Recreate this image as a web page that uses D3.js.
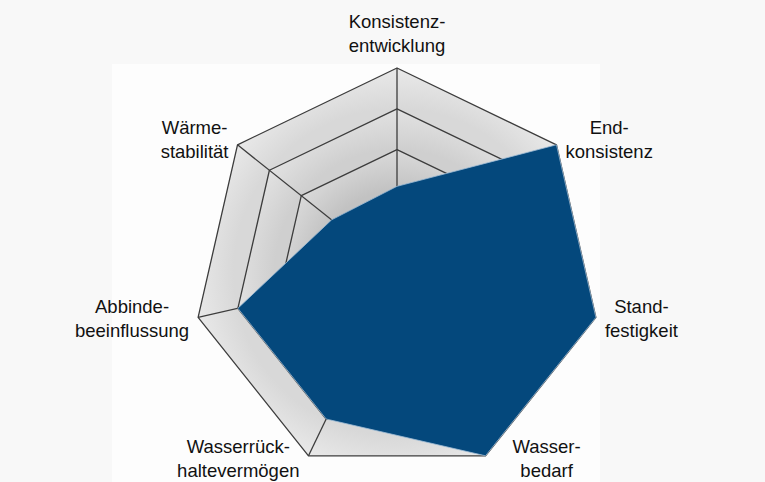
<!DOCTYPE html>
<html>
  <head>
    <meta charset="utf-8">
    <title>Netzdiagramm</title>
    <script src="https://cdn.jsdelivr.net/npm/d3@7"></script>
    <style>
      body { margin: 0; background: #f8f8f8; }
      text { font-family: "Liberation Sans", Arial, sans-serif; font-size: 18.5px; fill: #111; }
    </style>
  </head>
  <body>
    <script>
      // axis labels, clockwise from the top
      var labels = [
        ["Konsistenz-", "entwicklung"],
        ["End-", "konsistenz"],
        ["Stand-", "festigkeit"],
        ["Wasser-", "bedarf"],
        ["Wasserrück-", "haltevermögen"],
        ["Abbinde-", "beeinflussung"],
        ["Wärme-", "stabilität"]
      ];
      var values = [2.1, 5, 5, 5, 4, 4, 2.05];
      var levels = [1, 2, 3, 4, 5];

      var w = 765, h = 482;
      var cx = 397, cy = 272, R = 204;

      var svg = d3.select("body").append("svg")
          .attr("width", w)
          .attr("height", h);

      // slightly whiter panel behind the chart
      svg.append("rect")
          .attr("x", 112).attr("y", 64)
          .attr("width", 488).attr("height", h - 64)
          .attr("fill", "#fdfdfd");

      var r = d3.scaleLinear().domain([0, 5]).range([0, R]);
      var angle = function(i) { return i * 2 * Math.PI / labels.length; };

      var g = svg.append("g").attr("transform", "translate(" + cx + "," + cy + ")");
      var defs = svg.append("defs");

      var ring = function(lv) {
        return d3.lineRadial()
            .angle(function(d, i) { return angle(i); })
            .radius(r(lv))
            .curve(d3.curveLinearClosed)(labels);
      };

      // shaded bands, each one a little darker towards the inside
      var light = ["#c4c4c4", "#cfcfcf", "#dadada", "#e2e2e2", "#e9e9e9"];
      var dark  = ["#9c9c9c", "#b3b3b3", "#c2c2c2", "#cfcfcf", "#d8d8d8"];
      levels.slice().reverse().forEach(function(lv) {
        var k = lv - 1;
        var grad = defs.append("radialGradient")
            .attr("id", "band" + lv)
            .attr("gradientUnits", "userSpaceOnUse")
            .attr("cx", 0).attr("cy", 0)
            .attr("r", r(lv));
        grad.append("stop").attr("offset", k === 0 ? 0 : (lv - 1) / lv).attr("stop-color", dark[k]);
        grad.append("stop").attr("offset", 1).attr("stop-color", light[k]);
        g.append("path")
            .attr("d", ring(lv))
            .attr("fill", "url(#band" + lv + ")")
            .attr("stroke", "#3c3c3c")
            .attr("stroke-width", 1.3)
            .attr("stroke-linejoin", "round");
      });

      // spokes
      g.selectAll("line.spoke")
          .data(labels)
          .enter().append("line")
          .attr("class", "spoke")
          .attr("x1", 0).attr("y1", 0)
          .attr("x2", function(d, i) { return d3.pointRadial(angle(i), r(5))[0]; })
          .attr("y2", function(d, i) { return d3.pointRadial(angle(i), r(5))[1]; })
          .attr("stroke", "#3c3c3c")
          .attr("stroke-width", 1.3);

      // data area
      g.append("path")
          .datum(values)
          .attr("d", d3.lineRadial()
              .angle(function(d, i) { return angle(i); })
              .radius(function(d) { return r(d); })
              .curve(d3.curveLinearClosed))
          .attr("fill", "#04487c")
          .attr("stroke", "#9dbbd6")
          .attr("stroke-width", 0.8);

      // labels
      labels.forEach(function(lines, i) {
        var p = d3.pointRadial(angle(i), r(5));
        var vx = cx + p[0], vy = cy + p[1];
        var t = svg.append("text").attr("text-anchor", "middle");
        lines.forEach(function(s, j) {
          t.append("tspan").attr("x", 0).attr("y", j * 24).text(s);
        });
        var wMax = d3.max(t.selectAll("tspan").nodes(), function(n) { return n.getComputedTextLength(); });
        var c;
        if (i === 0) {
          c = [vx, vy - 34];
        } else {
          var side = p[0] > 0 ? 1 : -1;
          var gap = i === 3 ? 27 : 9;
          c = [vx + side * (gap + wMax / 2), vy + Math.min(8 * p[1] / R, 3)];
        }
        t.attr("transform", "translate(" + c[0] + "," + (c[1] - 6) + ")");
      });
    </script>
  </body>
</html>
